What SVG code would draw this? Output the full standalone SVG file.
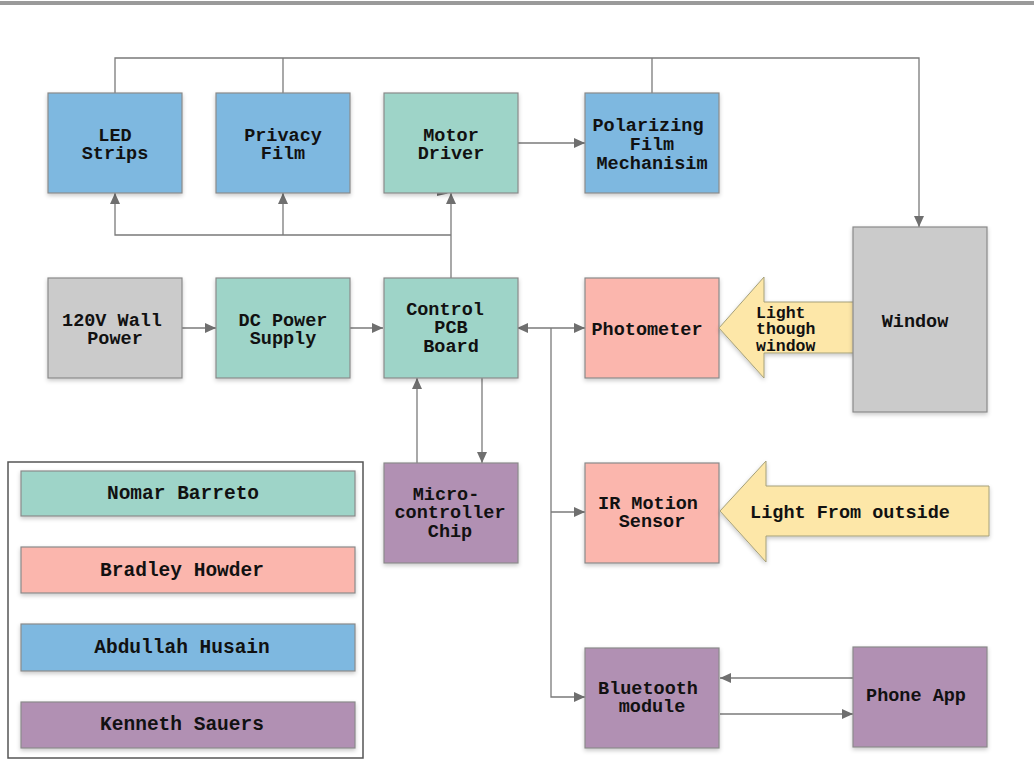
<svg xmlns="http://www.w3.org/2000/svg" width="1034" height="781" viewBox="0 0 1034 781">
<style>
.box{stroke:#8a8a8a;stroke-width:1.2;filter:url(#sh)}
.teal{fill:#9ed4c8}.blue{fill:#7eb8e0}.pink{fill:#fbb6ad}.purple{fill:#b190b3}.gray{fill:#cbcbcb}.yel{fill:#fde7a8;stroke:#a5a07a;stroke-width:1}
text{font-family:"Liberation Mono","DejaVu Sans Mono",monospace;font-weight:bold;font-size:18.5px;fill:#111;text-anchor:middle}
.sm{font-size:16.5px;text-anchor:start}
.lg{font-size:19.5px}
.c{fill:none;stroke:#7a7a7a;stroke-width:1.3}
</style>
<defs>
<filter id="sh" x="-10%" y="-10%" width="130%" height="140%"><feDropShadow dx="0" dy="2" stdDeviation="2" flood-color="#000" flood-opacity="0.22"/></filter>
<marker id="a" markerWidth="12" markerHeight="10" refX="11" refY="5" orient="auto" markerUnits="userSpaceOnUse"><path d="M0,0 L11,5 L0,10 z" fill="#6f6f6f"/></marker>
<marker id="s" markerWidth="12" markerHeight="10" refX="1" refY="5" orient="auto" markerUnits="userSpaceOnUse"><path d="M11,0 L0,5 L11,10 z" fill="#6f6f6f"/></marker>
</defs>
<rect x="0" y="1" width="1034" height="4" fill="#9a9a9a"/>
<rect x="0" y="5" width="1034" height="776" fill="#fff"/>

<g id="connectors">
<path class="c" d="M115,93 V58 H919 V227" marker-end="url(#a)"/>
<path class="c" d="M283,93 V58"/>
<path class="c" d="M652,93 V58"/>
<path class="c" d="M451,235 H115 V193" marker-end="url(#a)"/>
<path class="c" d="M283,235 V193" marker-end="url(#a)"/>
<path class="c" d="M451,278 V193" marker-end="url(#a)"/>
<path d="M437,189 L448,193.5 L437,196 z" fill="#6f6f6f"/>
<path class="c" d="M518,143 H585" marker-end="url(#a)"/>
<path class="c" d="M182,328 H216" marker-end="url(#a)"/>
<path class="c" d="M350,328 H383" marker-end="url(#a)"/>
<path class="c" d="M518,328 H585" marker-start="url(#s)" marker-end="url(#a)"/>
<path class="c" d="M551,328 V697 H585" marker-end="url(#a)"/>
<path class="c" d="M551,512 H585" marker-end="url(#a)"/>
<path class="c" d="M417,463 V378" marker-end="url(#a)"/>
<path class="c" d="M482,378 V463" marker-end="url(#a)"/>
<path class="c" d="M853,678 H720" marker-end="url(#a)"/>
<path class="c" d="M720,714 H853" marker-end="url(#a)"/>
</g>

<g id="led"><rect class="box blue" x="48" y="93" width="134" height="100"/><text x="115" y="141">LED</text><text x="115" y="159">Strips</text></g>
<g id="privacy"><rect class="box blue" x="216" y="93" width="134" height="100"/><text x="283" y="141">Privacy</text><text x="283" y="159">Film</text></g>
<g id="motor"><rect class="box teal" x="384" y="93" width="134" height="100"/><text x="451" y="141">Motor</text><text x="451" y="159">Driver</text></g>
<g id="polarizing"><rect class="box blue" x="585" y="93" width="134" height="100"/><text x="648" y="131">Polarizing</text><text x="652" y="150">Film</text><text x="652" y="169">Mechanisim</text></g>

<g id="wall"><rect class="box gray" x="48" y="278" width="134" height="100"/><text x="112" y="326">120V Wall</text><text x="115" y="344">Power</text></g>
<g id="dc"><rect class="box teal" x="216" y="278" width="134" height="100"/><text x="283" y="326">DC Power</text><text x="283" y="344">Supply</text></g>
<g id="control"><rect class="box teal" x="384" y="278" width="134" height="100"/><text x="445" y="315">Control</text><text x="451" y="333">PCB</text><text x="451" y="352">Board</text></g>
<g id="photometer"><rect class="box pink" x="585" y="278" width="134" height="100"/><text x="647" y="335">Photometer</text></g>

<g id="light-window"><path class="yel" d="M719,328 L764,277 L764,302 L856,302 L856,353 L764,353 L764,378 z" filter="url(#sh)"/><text class="sm" x="756" y="318">Light</text><text class="sm" x="756" y="334">though</text><text class="sm" x="756" y="351">window</text></g>
<g id="window"><rect class="box gray" x="853" y="227" width="134" height="185"/><text x="915" y="327">Window</text></g>

<g id="micro"><rect class="box purple" x="384" y="463" width="134" height="100"/><text x="446" y="500">Micro-</text><text x="450" y="518">controller</text><text x="450" y="537">Chip</text></g>
<g id="ir"><rect class="box pink" x="585" y="463" width="134" height="100"/><text x="648" y="509">IR Motion</text><text x="652" y="527">Sensor</text></g>
<g id="light-outside"><path class="yel" d="M720,511 L766,461 L766,486 L989,486 L989,536 L766,536 L766,562 z" filter="url(#sh)"/><text x="850" y="518">Light From outside</text></g>

<g id="bluetooth"><rect class="box purple" x="585" y="648" width="134" height="100"/><text x="648" y="694">Bluetooth</text><text x="652" y="712">module</text></g>
<g id="phone"><rect class="box purple" x="853" y="647" width="134" height="100"/><text x="916" y="701">Phone App</text></g>

<g id="legend">
<rect x="8" y="462" width="355" height="296" fill="#fff" stroke="#555" stroke-width="1.5"/>
<rect class="box teal" x="21" y="471" width="334" height="45"/><text class="lg" x="183" y="499">Nomar Barreto</text>
<rect class="box pink" x="21" y="547" width="334" height="46"/><text class="lg" x="182" y="576">Bradley Howder</text>
<rect class="box blue" x="21" y="624" width="334" height="47"/><text class="lg" x="182" y="653">Abdullah Husain</text>
<rect class="box purple" x="21" y="702" width="334" height="46"/><text class="lg" x="182" y="730">Kenneth Sauers</text>
</g>
</svg>
